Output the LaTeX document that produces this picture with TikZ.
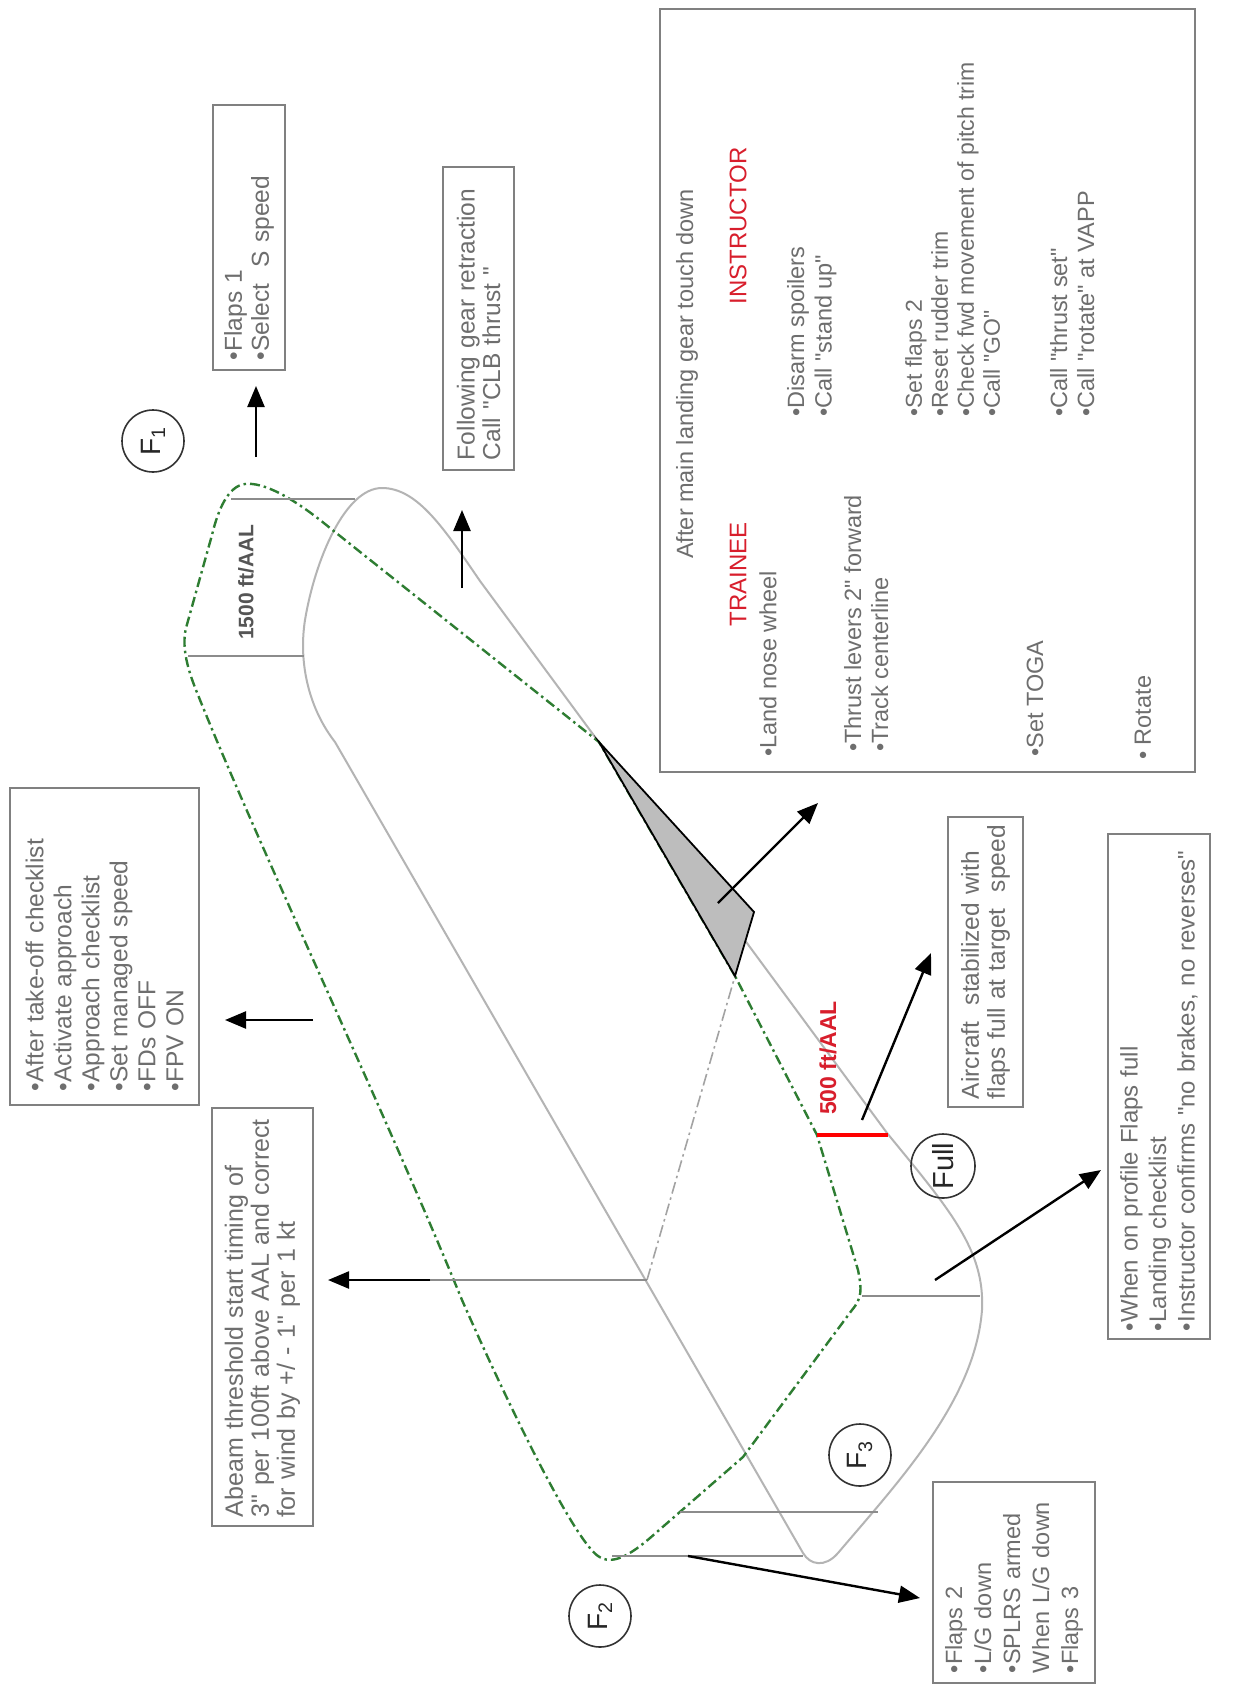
\documentclass[tikz,border=0pt]{standalone}
\usepackage{fontspec}
\setmainfont{Liberation Sans}[Ligatures=TeXOff]
\usetikzlibrary{arrows.meta}
\definecolor{txtgray}{HTML}{6E6E6E}
\definecolor{boxgray}{HTML}{808080}
\definecolor{linegray}{HTML}{8C8C8C}
\definecolor{curvegray}{HTML}{B4B4B4}
\definecolor{pathgreen}{HTML}{2E7D32}
\definecolor{redtxt}{HTML}{D81E2C}
\definecolor{wedgefill}{HTML}{BDBDBD}
\definecolor{altgray}{HTML}{555555}
\begin{document}
\begin{tikzpicture}[x=1pt,y=-1pt,
  body/.style={font=\fontsize{24.5}{27}\selectfont, text=txtgray},
  tbox/.style={body, draw=boxgray, line width=1.8pt, rotate=90, align=left, inner xsep=10pt, inner ysep=0pt},
  rtext/.style={font=\fontsize{23.5}{27}\selectfont, text=txtgray, rotate=90, align=left, inner sep=0pt},
  head/.style={font=\fontsize{24}{28}\selectfont, text=redtxt, rotate=90, inner sep=0pt},
  flap/.style={circle, draw=black!80, line width=1.6pt, minimum size=62pt, inner sep=0pt, rotate=90, text=black!85, font=\fontsize{28}{30}\selectfont},
  arr/.style={-{Triangle[length=21pt,width=17pt]}, line width=2.4pt, black},
  hline/.style={draw=linegray, line width=1.8pt},
  greenpath/.style={draw=pathgreen, line width=2.4pt, dash pattern=on 10pt off 4pt on 2.5pt off 4pt},
  greycurve/.style={draw=curvegray, line width=2pt},
  greydash/.style={draw=linegray!80, line width=1.6pt, dash pattern=on 12pt off 4pt on 2.5pt off 4pt},
  alt/.style={rotate=90, inner sep=0pt, font=\bfseries\fontsize{23}{27}\selectfont}
]
\useasboundingbox (0,0) rectangle (1240,1686);
\fill[white] (0,0) rectangle (1240,1686);

% grey circuit
\draw[greycurve] (887,1133) -- (480,581) .. controls (445,530) and (418,488) .. (382,488)
  .. controls (345,488) and (315,560) .. (305,620)
  .. controls (298,665) and (310,710) .. (335,742) -- (803,1553)
  .. controls (810,1565) and (825,1568) .. (838,1553)
  .. controls (900,1480) and (975,1400) .. (982,1310)
  .. controls (985,1250) and (950,1210) .. (887,1133) -- cycle;

% green circuit
\draw[greenpath] (735,976) -- (599,742) -- (330,528)
  .. controls (290,495) and (262,482) .. (245,484)
  .. controls (228,486) and (218,510) .. (212,535) -- (186,628)
  .. controls (182,645) and (186,665) .. (196,690)
  .. controls (260,850) and (380,1100) .. (462,1300)
  .. controls (515,1420) and (575,1540) .. (598,1556)
  .. controls (612,1566) and (630,1555) .. (650,1538)
  -- (743,1457) -- (852,1310)
  .. controls (862,1298) and (862,1290) .. (858,1270)
  -- (817,1135) -- cycle;

% grey dash-dot and levels
\draw[greydash] (647,1280) -- (735,976);
\draw[hline] (430,1280) -- (647,1280);
\draw[hline] (862,1296) -- (980,1296);
\draw[hline] (612,1556) -- (803,1556);
\draw[hline] (680,1512) -- (878,1512);
\draw[hline] (231,499) -- (355,499);
\draw[hline] (188,656) -- (304,656);

% touchdown wedge
\filldraw[fill=wedgefill, draw=black, line width=1.8pt, line join=miter] (599,742) -- (754,912) -- (735,976) -- cycle;

% 500 ft tick
\draw[draw=red, line width=4pt] (817,1135) -- (888,1135);

% altitude labels
\node[alt, text=altgray, font=\bfseries\fontsize{21}{25}\selectfont] (alt1500) at (246,582) {1500 ft/AAL};
\node[alt, text=redtxt] (alt500) at (828,1058) {500 ft/AAL};

% flap circles
\node[flap] (f1) at (153,441) {F\textsubscript{1}};
\node[flap] (f2) at (600,1616) {F\textsubscript{2}};
\node[flap] (f3) at (860,1455) {F\textsubscript{3}};
\node[flap, minimum size=64pt, font=\fontsize{29}{31}\selectfont] (ffull) at (943,1166) {Full};

% boxes
\node[tbox, text width=245pt, minimum height=72pt] (boxA) at (249,237.5) {•Flaps 1\\•Select~ S speed};
\node[tbox, text width=283pt, minimum height=71pt, font=\fontsize{24.5}{25.5}\selectfont] (boxB) at (478.5,318.5) {Following gear retraction\\Call "CLB thrust "};
\node[tbox, text width=289pt, minimum height=189pt, inner xsep=14pt, font=\fontsize{24.5}{28}\selectfont] (boxC) at (104.5,946.5) {•After take-off checklist\\•Activate approach\\•Approach checklist\\•Set managed speed\\•FDs OFF\\•FPV ON};
\node[tbox, text width=400pt, minimum height=101pt, inner xsep=9pt, font=\fontsize{25}{26}\selectfont] (boxD) at (262.5,1317) {Abeam threshold start timing of\\3" per 100ft above AAL and correct\\for wind by +/ - 1" per 1 kt};
\node[tbox, text width=274pt, minimum height=75pt, inner xsep=8pt, font=\fontsize{24.5}{26}\selectfont] (boxE) at (985.5,962) {Aircraft~ stabilized with\\flaps full at target~ speed};
\node[tbox, text width=489pt, minimum height=102pt, inner xsep=8pt, font=\fontsize{24}{28.5}\selectfont] (boxF) at (1159,1086.5) {•When on profile Flaps full\\•Landing checklist\\•Instructor confirms "no brakes, no reverses"};
\node[tbox, text width=181pt, minimum height=162pt, font=\fontsize{23.5}{29}\selectfont] (boxG) at (1014,1582.5) {•Flaps 2\\•L/G down\\•SPLRS armed\\When L/G down\\•Flaps 3};

% big instructor / trainee box
\node[draw=boxgray, line width=1.8pt, minimum width=535pt, minimum height=763pt, inner sep=0pt] (bigbox) at (927.5,390.5) {};
\node[rtext, anchor=west] (aftermain) at (687,559) {After main landing gear touch down};
\node[head] (trainee) at (738,574) {TRAINEE};
\node[head] (instructor) at (738,226) {INSTRUCTOR};
\node[rtext, anchor=west] (t1) at (768,757) {•Land nose wheel};
\node[rtext, anchor=north west, font=\fontsize{23.5}{27.5}\selectfont] (i1) at (787,417) {•Disarm spoilers\\•Call "stand up"};
\node[rtext, anchor=north west] (t2) at (844,752) {•Thrust levers 2" forward\\•Track centerline};
\node[rtext, anchor=north west, font=\fontsize{23}{26}\selectfont] (i2) at (905,417) {•Set flaps 2\\•Reset rudder trim\\•Check fwd movement of pitch trim\\•Call "GO"};
\node[rtext, anchor=west] (t3) at (1035,757) {•Set TOGA};
\node[rtext, anchor=north west] (i3) at (1050,417) {•Call "thrust set"\\•Call "rotate" at VAPP};
\node[rtext, anchor=west] (t4) at (1143,760) {• Rotate};

% arrow end points
\coordinate (aAs) at (256,457); \coordinate (aAe) at (256,386);
\coordinate (aBs) at (462,588); \coordinate (aBe) at (462,510);
\coordinate (aCs) at (313,1020); \coordinate (aCe) at (225,1020);
\coordinate (aDs) at (430,1280); \coordinate (aDe) at (328,1280);
\coordinate (aWs) at (718,903); \coordinate (aWe) at (818,803);
\coordinate (aEs) at (862,1120); \coordinate (aEe) at (931,953);
\coordinate (aFs) at (935,1280); \coordinate (aFe) at (1101,1170);
\coordinate (aGs) at (688,1556); \coordinate (aGe) at (920,1598);

\draw[arr] (aAs) -- (aAe);
\draw[arr] (aBs) -- (aBe);
\draw[arr] (aCs) -- (aCe);
\draw[arr] (aDs) -- (aDe);
\draw[arr] (aWs) -- (aWe);
\draw[arr] (aEs) -- (aEe);
\draw[arr] (aFs) -- (aFe);
\draw[arr] (aGs) -- (aGe);
\end{tikzpicture}
\end{document}
